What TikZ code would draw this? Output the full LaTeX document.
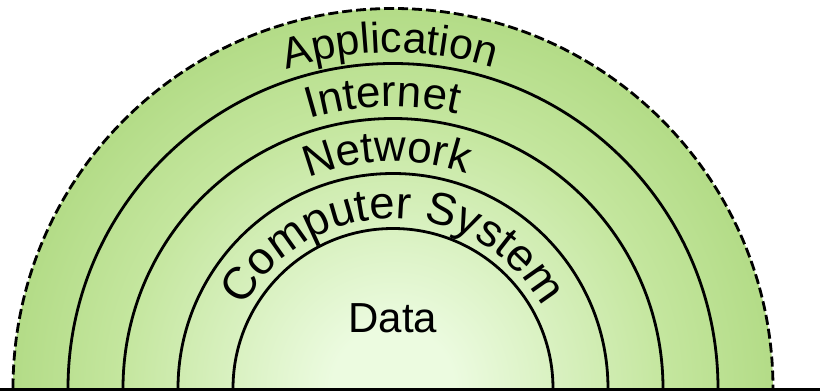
\documentclass[tikz,border=0pt]{standalone}
\usepackage{fontspec}
\setmainfont{Liberation Sans}
\usetikzlibrary{decorations.text}
\definecolor{cin}{RGB}{236,251,224}
\definecolor{cm1}{RGB}{196,230,158}
\definecolor{cm2}{RGB}{155,205,102}
\definecolor{cout}{RGB}{134,190,68}
\pgfdeclareradialshading{ringshade}{\pgfpointorigin}{color(0bp)=(cin); color(4bp)=(cin); color(18bp)=(cm1); color(35bp)=(cm2); color(50bp)=(cout)}
\begin{document}
\begin{tikzpicture}[x=1pt,y=1pt,
  ring/.style={draw=black, line width=2.8pt},
  outerring/.style={draw=black, line width=2.8pt, dash pattern=on 10pt off 4pt},
  lbl/.style={font=\fontsize{42}{50}\selectfont}]
\useasboundingbox (0,0) rectangle (820,391);
\coordinate (C) at (393,2.5);
\begin{scope}
  \clip (0,2.5) rectangle (820,391);
  \shade[shading=ringshade] (C) circle (380pt);
\end{scope}
% rings
\draw[ring] ([xshift=-160pt]C) arc[start angle=180,end angle=0,radius=160pt];
\draw[ring] ([xshift=-215pt]C) arc[start angle=180,end angle=0,radius=215pt];
\draw[ring] ([xshift=-270pt]C) arc[start angle=180,end angle=0,radius=270pt];
\draw[ring] ([xshift=-325pt]C) arc[start angle=180,end angle=0,radius=325pt];
\draw[outerring] ([xshift=-380pt]C) arc[start angle=180,end angle=0,radius=380pt];
% base line
\fill[black] (0,0) rectangle (820,2.5);
% curved labels
\path[decorate, decoration={text along path, text align=center,
  text={|\fontsize{43}{50}\selectfont|Application}}]
  (C) ++(180.5:336pt) arc[start angle=180.5,end angle=0.5,radius=336pt];
\path[decorate, decoration={text along path, text align=center,
  text={|\fontsize{44}{50}\selectfont|Internet}}]
  (C) ++(182:282pt) arc[start angle=182,end angle=2,radius=282pt];
\path[decorate, decoration={text along path, text align=center,
  text={|\fontsize{44}{50}\selectfont|Network}}]
  (C) ++(181.5:227pt) arc[start angle=181.5,end angle=1.5,radius=227pt];
\path[decorate, decoration={text along path, text align=center,
  text={|\fontsize{45.5}{50}\selectfont|Computer System}}]
  (C) ++(180:170pt) arc[start angle=180,end angle=0,radius=170pt];
\node[lbl, anchor=base] (data) at (393,58) {Data};
\end{tikzpicture}
\end{document}
